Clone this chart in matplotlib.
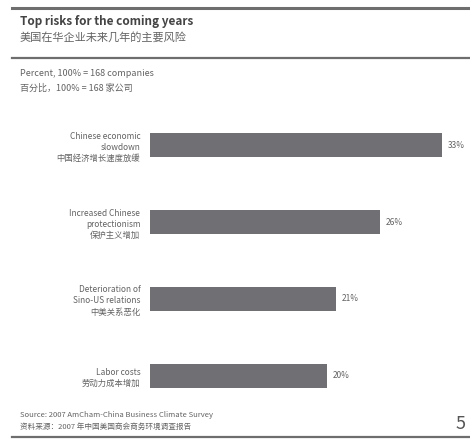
import matplotlib.pyplot as plt
from matplotlib.lines import Line2D

plt.rcParams['font.family'] = ['Noto Sans CJK SC', 'DejaVu Sans']

# data
risks = [
    'Chinese economic\nslowdown\n中国经济增长速度放缓',
    'Increased Chinese\nprotectionism\n保护主义增加',
    'Deterioration of\nSino-US relations\n中美关系恶化',
    'Labor costs\n劳动力成本增加',
]
shares = [33, 26, 21, 20]
value_labels = ['33%', '26%', '21%', '20%']

text_grey = '#636363'
bar_grey = '#707074'
rule_grey = '#6e6e6e'

fig = plt.figure(figsize=(4.7, 4.4), dpi=100)
W, H = 470, 440

def fx(px):
    return px / W

def fy(py):
    return 1 - py / H

# rules
for y, lw in [(8, 2.2), (58, 1.6), (437, 1.6)]:
    fig.add_artist(Line2D([fx(12), 1.0], [fy(y), fy(y)], color=rule_grey, lw=lw))

# header text
fig.text(fx(20), fy(21), 'Top risks for the coming years', fontsize=8.5,
         fontweight='bold', color='#444444', va='center')
fig.text(fx(20), fy(37), '美国在华企业未来几年的主要风险', fontsize=8,
         color=text_grey, va='center')
fig.text(fx(20), fy(73), 'Percent, 100% = 168 companies', fontsize=6.5,
         color=text_grey, va='center')
fig.text(fx(20), fy(88), '百分比，100% = 168 家公司', fontsize=6.5,
         color=text_grey, va='center')

# footer text
fig.text(fx(20), fy(415), 'Source: 2007 AmCham-China Business Climate Survey',
         fontsize=5.5, color=text_grey, va='center')
fig.text(fx(20), fy(427), '资料来源：2007 年中国美国商会商务环境调查报告',
         fontsize=5.5, color=text_grey, va='center')
fig.text(fx(466), fy(424), '5', fontsize=13, color='#555555',
         ha='right', va='center')

# bars
ax = fig.add_axes([fx(150), fy(414), fx(310), 307 / H])
pos = list(range(len(shares)))
bars = ax.barh(pos, shares, height=0.31, color=bar_grey)
ax.bar_label(bars, labels=value_labels, padding=4, fontsize=6, color=text_grey)
ax.set_xlim(0, 35)
ax.set_ylim(3.5, -0.5)
ax.set_yticks(pos)
ax.set_yticklabels(risks, fontsize=6, color=text_grey, linespacing=1.3)
ax.tick_params(axis='y', length=0, pad=7)
ax.set_xticks([])
for s in ax.spines.values():
    s.set_visible(False)

fig.savefig('out.png', dpi=100)
